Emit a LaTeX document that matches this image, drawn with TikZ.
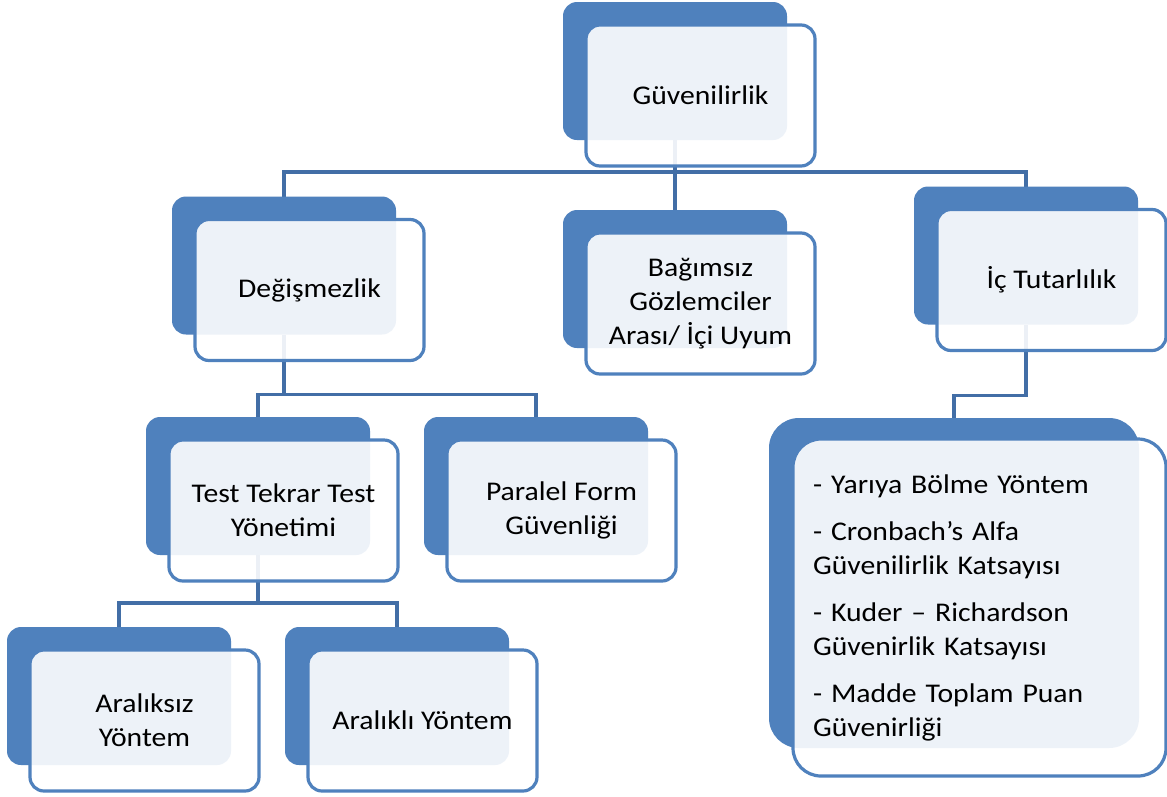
\documentclass[tikz,border=0pt]{standalone}
\usepackage{fontspec}
\setmainfont{Carlito}[FakeStretch=1.1]
\usepackage{xcolor}
\usepackage{tikz}
\usetikzlibrary{calc, positioning, backgrounds}

\definecolor{boxblue}{RGB}{79,129,189}
\definecolor{lineblue}{RGB}{66,110,166}

\begin{document}
\begin{tikzpicture}[x=1pt,y=-1pt,
                    back node/.style={rectangle,rounded corners=14pt,fill=boxblue,inner sep=0pt,outer sep=0pt,
                                      minimum width=224pt,minimum height=138pt},
                    front node/.style={rectangle,rounded corners=14pt,draw=boxblue,line width=3.2pt,
                                       fill=white,fill opacity=0.9,text opacity=1,inner sep=0pt,outer sep=0pt,
                                       minimum width=229pt,minimum height=141pt,xshift=25.5pt,yshift=-24.5pt,
                                       align=center,font=\fontsize{27}{34}\selectfont},
                    big back/.style={back node,rounded corners=30pt,minimum width=370pt,minimum height=330pt},
                    big front/.style={front node,rounded corners=28pt,minimum width=373pt,minimum height=337pt,
                                      text width=333pt,align=left},
                    conn/.style={draw=lineblue,line width=3.2pt}]

  \useasboundingbox (0,0) rectangle (1167,796);

  % back plates
  \node[back node] (b1) at (675,71) {};
  \node[back node] (b2) at (284,265.5) {};
  \node[back node] (b3) at (675,279) {};
  \node[back node] (b4) at (1026,255.5) {};
  \node[back node] (b5) at (258,486) {};
  \node[back node] (b6) at (536,486) {};
  \node[back node] (b7) at (119,696) {};
  \node[back node] (b8) at (397,696) {};
  \node[big back]  (b9) at (954,583) {};

  % front boxes
  \node[front node] (1) at (b1) {Güvenilirlik};
  \node[front node] (2) at (b2) {Değişmezlik};
  \node[front node] (3) at (b3) {Bağımsız\\Gözlemciler\\Arası/ İçi Uyum};
  \node[front node] (4) at (b4) {İç Tutarlılık};
  \node[front node] (5) at (b5) {Test Tekrar Test\\Yönetimi};
  \node[front node] (6) at (b6) {Paralel Form\\Güvenliği};
  \node[front node] (7) at (b7) {Aralıksız\\Yöntem};
  \node[front node] (8) at (b8) {Aralıklı Yöntem};
  \node[big front]  (9) at (b9) {- Yarıya Bölme Yöntem\\[13pt]
                                 - Cronbach’s Alfa\\Güvenilirlik Katsayısı\\[13pt]
                                 - Kuder – Richardson\\Güvenirlik Katsayısı\\[13pt]
                                 - Madde Toplam Puan\\Güvenirliği};

  \begin{scope}[on background layer]
    \fill[white] (0,0) rectangle (1167,796);
    \coordinate (j1) at ($(b1.south)+(0,32)$);
    \coordinate (j2) at ($(b2.south)+(0,60)$);
    \coordinate (j3) at ($(b5.south)+(0,48)$);
    \coordinate (j4) at ($(b4.south)+(0,71)$);
    \draw[conn] (b1.south) -- (j1) -| (b2.north);
    \draw[conn] (j1) -- (b3.north);
    \draw[conn] (j1) -| (b4.north);
    \draw[conn] (b2.south) -- (j2) -| (b5.north);
    \draw[conn] (j2) -| (b6.north);
    \draw[conn] (b5.south) -- (j3) -| (b7.north);
    \draw[conn] (j3) -| (b8.north);
    \draw[conn] (b4.south) -- (j4) -| (b9.north);
  \end{scope}

\end{tikzpicture}
\end{document}
